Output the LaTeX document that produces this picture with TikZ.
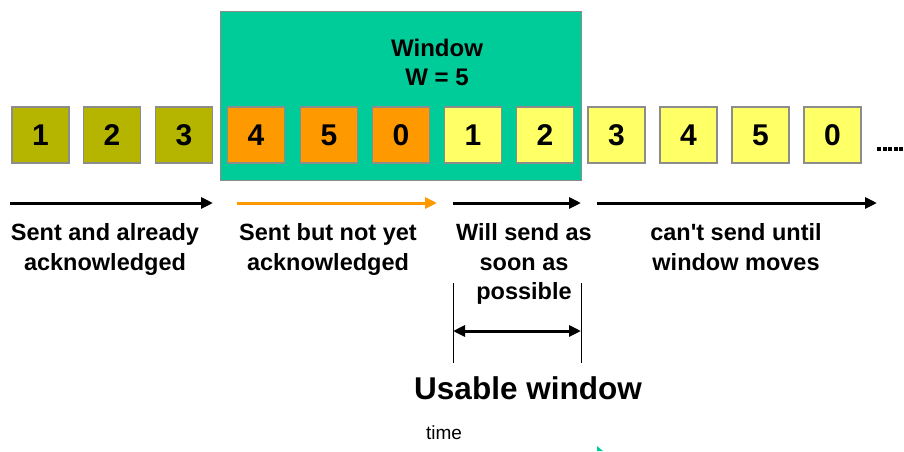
\documentclass[tikz,border=0pt]{standalone}
\usepackage{fontspec}
\setmainfont{Liberation Sans}[Ligatures=TeXOff]
\usetikzlibrary{arrows.meta}
\definecolor{seqOlive}{HTML}{B5B500}
\definecolor{seqOrange}{HTML}{FF9900}
\definecolor{seqYellow}{HTML}{FFFF66}
\definecolor{seqGreen}{HTML}{00CC99}
\definecolor{seqBorder}{HTML}{8C8C8C}
\begin{document}
\begin{tikzpicture}[x=1pt,y=-1pt,
  seqbox/.style={draw=seqBorder,line width=1.2pt,minimum width=57pt,minimum height=56pt,inner sep=0pt,
     font=\bfseries\fontsize{30}{31}\selectfont},
  lbl/.style={align=center,inner sep=0pt,anchor=base,font=\bfseries\fontsize{23.5}{29.5}\selectfont},
  bigarrow/.style={line width=3pt,-{Triangle[length=12pt,width=11pt]}},
]
\useasboundingbox (0,0) rectangle (904,451);
% window
\node[draw=seqBorder,line width=1.2pt,fill=seqGreen,minimum width=361pt,minimum height=169pt,inner sep=0pt,anchor=north west] (win) at (220,11) {};
\node[align=center,inner sep=0pt,anchor=base,font=\bfseries\fontsize{24}{29}\selectfont] (wintxt) at (437,85.5) {Window\\W = 5};
% boxes
\node[seqbox,fill=seqOlive]  (b1)  at (40.5,135) {1};
\node[seqbox,fill=seqOlive]  (b2)  at (112,135) {2};
\node[seqbox,fill=seqOlive]  (b3)  at (184,135) {3};
\node[seqbox,fill=seqOrange] (b4)  at (256,135) {4};
\node[seqbox,fill=seqOrange] (b5)  at (329,135) {5};
\node[seqbox,fill=seqOrange] (b6)  at (401,135) {0};
\node[seqbox,fill=seqYellow] (b7)  at (473,135) {1};
\node[seqbox,fill=seqYellow] (b8)  at (545,135) {2};
\node[seqbox,fill=seqYellow] (b9)  at (616.5,135) {3};
\node[seqbox,fill=seqYellow] (b10) at (688.5,135) {4};
\node[seqbox,fill=seqYellow] (b11) at (760.5,135) {5};
\node[seqbox,fill=seqYellow] (b12) at (832.5,135) {0};
% dots
\foreach \i/\xx in {1/879,2/884.5,3/890,4/895.5,5/901}
  \fill (\xx-2,147) rectangle (\xx+2,151);
% arrows
\coordinate (a1s) at (10,203);  \coordinate (a1e) at (213,203);
\coordinate (a2s) at (237,203); \coordinate (a2e) at (437,203);
\coordinate (a3s) at (453,203); \coordinate (a3e) at (581,203);
\coordinate (a4s) at (597,203); \coordinate (a4e) at (877,203);
\draw[bigarrow] (a1s) -- (a1e);
\draw[bigarrow,seqOrange] (a2s) -- (a2e);
\draw[bigarrow] (a3s) -- (a3e);
\draw[bigarrow] (a4s) -- (a4e);
% labels (base anchor = baseline of last line)
\node[lbl] (l1) at (105,270) {Sent and already\\acknowledged};
\node[lbl] (l2) at (328,270) {Sent but not yet\\acknowledged};
\node[lbl] (l3) at (524,299.5) {Will send as\\soon as\\possible};
\node[lbl] (l4) at (736,270) {can't send until\\window moves};
% usable window
\coordinate (v1t) at (453,283); \coordinate (v1b) at (453,363);
\coordinate (v2t) at (581,283); \coordinate (v2b) at (581,363);
\draw[line width=1pt] (v1t) -- (v1b);
\draw[line width=1pt] (v2t) -- (v2b);
\coordinate (u1) at (453,331); \coordinate (u2) at (581,331);
\draw[line width=3pt,{Triangle[length=12pt,width=11pt]}-{Triangle[length=12pt,width=11pt]}] (u1) -- (u2);
\node[inner sep=0pt,anchor=base,font=\bfseries\fontsize{31.5}{32}\selectfont] (uw) at (528,399) {Usable window};
\node[inner sep=0pt,anchor=base,font=\fontsize{19}{20}\selectfont] (time) at (444,439) {time};
% small teal mark at bottom
\fill[seqGreen] (597,446) -- (597,451) -- (603,451) -- cycle;
\end{tikzpicture}
\end{document}
